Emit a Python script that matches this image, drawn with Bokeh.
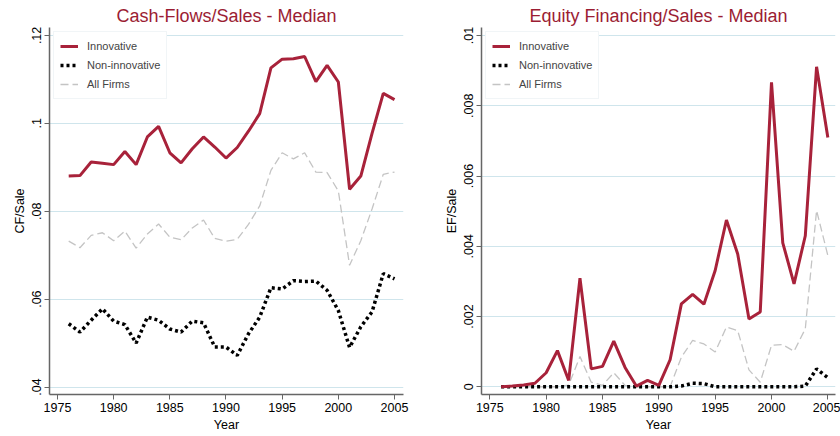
from bokeh.plotting import figure
from bokeh.models import Range1d, FixedTicker, Legend, LegendItem, Title
from bokeh.layouts import row
from bokeh.embed import file_html
from bokeh.resources import INLINE

years = [1976, 1977, 1978, 1979, 1980, 1981, 1982, 1983, 1984, 1985,
         1986, 1987, 1988, 1989, 1990, 1991, 1992, 1993, 1994, 1995,
         1996, 1997, 1998, 1999, 2000, 2001, 2002, 2003, 2004, 2005]

cf_innov = [0.0880, 0.0881, 0.0912, 0.0909, 0.0906, 0.0936, 0.0906, 0.0969, 0.0993, 0.0933,
            0.0910, 0.0942, 0.0969, 0.0946, 0.0921, 0.0945, 0.0982, 0.1022, 0.1126, 0.1146,
            0.1147, 0.1152, 0.1095, 0.1132, 0.1094, 0.0850, 0.0880, 0.0977, 0.1068, 0.1054]
cf_non = [0.0544, 0.0525, 0.0552, 0.0578, 0.0550, 0.0542, 0.0500, 0.0559, 0.0552, 0.0532,
          0.0525, 0.0550, 0.0546, 0.0491, 0.0491, 0.0472, 0.0521, 0.0559, 0.0626, 0.0623,
          0.0642, 0.0640, 0.0641, 0.0620, 0.0574, 0.0490, 0.0537, 0.0571, 0.0658, 0.0646]
cf_all = [0.0732, 0.0717, 0.0745, 0.0751, 0.0733, 0.0755, 0.0716, 0.0748, 0.0771, 0.0741,
          0.0735, 0.0762, 0.0780, 0.0738, 0.0732, 0.0736, 0.0770, 0.0812, 0.0893, 0.0933,
          0.0919, 0.0933, 0.0889, 0.0888, 0.0846, 0.0677, 0.0733, 0.0805, 0.0884, 0.0889]

ef_innov = [0.0, 0.00002, 0.00005, 0.0001, 0.0004, 0.00103, 0.00018, 0.00309, 0.00051, 0.00058,
            0.0013, 0.00055, 0.00002, 0.00018, 0.00004, 0.00077, 0.00236, 0.00263, 0.00235, 0.00331,
            0.00475, 0.00378, 0.00193, 0.00213, 0.00867, 0.0041, 0.00293, 0.0043, 0.00911, 0.0071]
ef_non = [0.0, 0.0, 0.0, 0.0, 0.0, 0.0, 0.0, 0.0, 0.0, 0.0,
          0.0, 0.0, 0.0, 0.0, 0.0, 0.0, 0.00002, 0.0001, 0.00009, 0.0,
          0.0, 0.0, 0.0, 0.0, 0.0, 0.0, 0.0, 0.00002, 0.00051, 0.00026]
ef_all = [0.0, 0.0, 0.0, 0.0, 0.0, 0.0, 0.00005, 0.00086, 0.00013, 0.00004,
          0.0004, 0.00004, 0.0, 0.0, 0.0, 0.0, 0.00084, 0.00132, 0.00122, 0.00099,
          0.0017, 0.0016, 0.00048, 0.00013, 0.00118, 0.0012, 0.00101, 0.00165, 0.00502, 0.00374]

x_ticks = [1975, 1980, 1985, 1990, 1995, 2000, 2005]
cf_ticks = [0.04, 0.06, 0.08, 0.10, 0.12]
cf_tick_labels = [".04", ".06", ".08", ".1", ".12"]
ef_ticks = [0.0, 0.002, 0.004, 0.006, 0.008, 0.01]
ef_tick_labels = ["0", ".002", ".004", ".006", ".008", ".01"]
series_names = ["Innovative", "Non-innovative", "All Firms"]

FONT = "Liberation Sans"
TITLE_COLOR = "#9b1d33"
INNOV_COLOR = "#a8223a"
GRID_COLOR = "#cfe5ec"
AXIS_COLOR = "#666666"


def make_fig(title, ylabel, innov, non, allf, yticks, ylabels, yr, xr, width, bl, br):
    p = figure(width=width, height=436, output_backend="svg", toolbar_location=None,
               x_range=Range1d(*xr), y_range=Range1d(*yr),
               min_border_left=bl, min_border_right=br, min_border_top=27, min_border_bottom=42)
    p.title = Title(text=title, align="center", text_font=FONT, text_font_size="18px",
                    text_font_style="normal", text_color=TITLE_COLOR, standoff=4)
    p.outline_line_color = None
    p.background_fill_color = "white"

    r_all = p.line(years, allf, line_color="#c4c4c4", line_width=1.3, line_dash="8 4")
    r_non = p.line(years, non, line_color="black", line_width=3.5, line_dash="3 3")
    r_inn = p.line(years, innov, line_color=INNOV_COLOR, line_width=3)

    p.xaxis.ticker = FixedTicker(ticks=x_ticks)
    p.yaxis.ticker = FixedTicker(ticks=yticks)
    p.yaxis.major_label_overrides = {t: l for t, l in zip(yticks, ylabels)}
    p.yaxis.major_label_orientation = "vertical"
    p.xaxis.axis_label = "Year"
    p.yaxis.axis_label = ylabel
    for ax in (p.xaxis, p.yaxis):
        ax.axis_line_color = AXIS_COLOR
        ax.axis_line_width = 1.5
        ax.major_tick_line_color = AXIS_COLOR
        ax.major_tick_line_width = 1
        ax.major_tick_out = 5
        ax.major_tick_in = 0
        ax.minor_tick_line_color = None
        ax.major_label_text_font = FONT
        ax.major_label_text_font_size = "12.5px"
        ax.major_label_text_color = "black"
        ax.axis_label_text_font = FONT
        ax.axis_label_text_font_size = "12.5px"
        ax.axis_label_text_font_style = "normal"
        ax.axis_label_text_color = "black"
        ax.major_label_standoff = 3
        ax.axis_label_standoff = 3
    p.xgrid.grid_line_color = None
    p.ygrid.grid_line_color = GRID_COLOR
    p.ygrid.grid_line_width = 1

    legend = Legend(items=[LegendItem(label=series_names[0], renderers=[r_inn]),
                           LegendItem(label=series_names[1], renderers=[r_non]),
                           LegendItem(label=series_names[2], renderers=[r_all])],
                    location="top_left", margin=4, padding=6, spacing=3,
                    glyph_width=18, glyph_height=16, label_height=16, label_standoff=9,
                    label_text_font=FONT, label_text_font_size="11px",
                    border_line_color="#e3ecef", border_line_width=1,
                    background_fill_color="white", background_fill_alpha=1)
    p.add_layout(legend)
    return p


p1 = make_fig("Cash-Flows/Sales - Median", "CF/Sale", cf_innov, cf_non, cf_all,
              cf_ticks, cf_tick_labels, (0.0383, 0.1218), (1974.29, 2005.8), 420, 49, 17)
p2 = make_fig("Equity Financing/Sales - Median", "EF/Sale", ef_innov, ef_non, ef_all,
              ef_ticks, ef_tick_labels, (-0.00022, 0.01023), (1974.26, 2005.68), 420, 61, 5)

layout = row(p1, p2)
open("out.html", "w").write(file_html(layout, INLINE))
